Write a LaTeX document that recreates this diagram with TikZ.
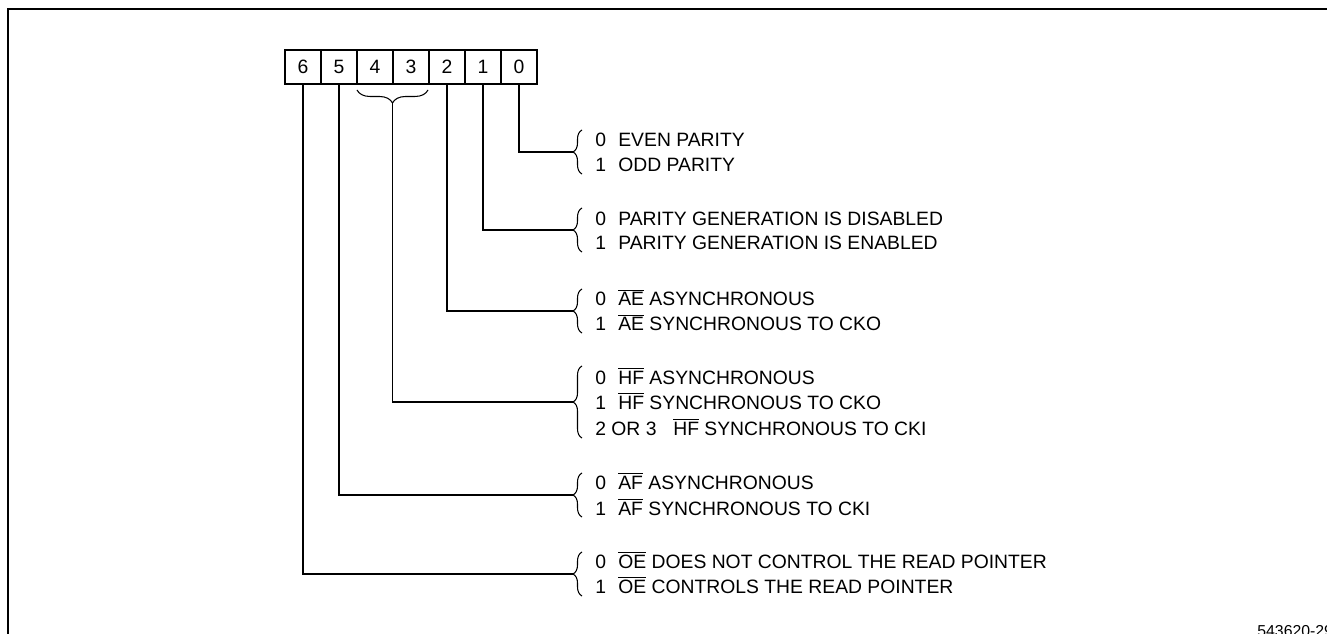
\documentclass[tikz,border=0pt]{standalone}
\usepackage{fontspec}
\setmainfont{Liberation Sans}
\usetikzlibrary{calc}
\usetikzlibrary{decorations.pathreplacing}

\newcommand{\ovl}[1]{$\overline{\mbox{#1}}$}

\tikzset{
  cell/.style={draw, line width=0.6pt, minimum width=0.72cm, minimum height=0.68cm, inner sep=0pt, font=\fontsize{11}{13}\selectfont},
  desc/.style={anchor=base west, inner sep=0pt, font=\fontsize{11}{13}\selectfont},
  brc/.style={decorate, decoration={brace, amplitude=0.18cm}, line width=0.6pt},
  wire/.style={line width=0.6pt},
}

\begin{document}
\begin{tikzpicture}[x=0.02cm, y=-0.02cm]
    \useasboundingbox (0,0) rectangle (1327,634);
    % bingkai
    \draw[line width=1pt] (8,634) |- (1327,9);

    % bit-bit register
    \node[cell] (b6) at (303,67) {6};
    \node[cell] (b5) at (339,67) {5};
    \node[cell] (b4) at (375,67) {4};
    \node[cell] (b3) at (411,67) {3};
    \node[cell] (b2) at (447,67) {2};
    \node[cell] (b1) at (483,67) {1};
    \node[cell] (b0) at (519,67) {0};
    \draw[line width=1.1pt] (b6.north west) rectangle (b0.south east);

    % kurung bit 4 dan 3
    \draw[decorate, decoration={brace, amplitude=0.26cm}, line width=0.6pt] (428,90) -- (357,90);
    \coordinate (k43) at (392.5,103);

    % ujung-ujung kurung keterangan
    \coordinate (t0) at (573,152);
    \coordinate (t1) at (573,230);
    \coordinate (t2) at (573,311);
    \coordinate (t4) at (573,402);
    \coordinate (t5) at (573,495);
    \coordinate (t6) at (573,574);

    % bit 0
    \node[desc] (e0a) at (595,147) {\makebox[0.46cm][l]{0}EVEN PARITY};
    \node[desc] (e0b) at (595,172) {\makebox[0.46cm][l]{1}ODD PARITY};
    \draw[brc] ($(t0)+(9,22)$) -- ($(t0)+(9,-22)$);
    \draw[wire] (b0.south) |- (t0);

    % bit 1
    \node[desc] (e1a) at (595,226) {\makebox[0.46cm][l]{0}PARITY GENERATION IS DISABLED};
    \node[desc] (e1b) at (595,250) {\makebox[0.46cm][l]{1}PARITY GENERATION IS ENABLED};
    \draw[brc] ($(t1)+(9,22)$) -- ($(t1)+(9,-22)$);
    \draw[wire] (b1.south) |- (t1);

    % bit 2
    \node[desc] (e2a) at (595,306) {\makebox[0.46cm][l]{0}\ovl{AE} ASYNCHRONOUS};
    \node[desc] (e2b) at (595,331) {\makebox[0.46cm][l]{1}\ovl{AE} SYNCHRONOUS TO CKO};
    \draw[brc] ($(t2)+(9,22)$) -- ($(t2)+(9,-22)$);
    \draw[wire] (b2.south) |- (t2);

    % bit 4 dan 3
    \node[desc] (e4a) at (595,384) {\makebox[0.46cm][l]{0}\ovl{HF} ASYNCHRONOUS};
    \node[desc] (e4b) at (595,409) {\makebox[0.46cm][l]{1}\ovl{HF} SYNCHRONOUS TO CKO};
    \node[desc] (e4c) at (595,435) {\makebox[1.56cm][l]{2 OR 3}\ovl{HF} SYNCHRONOUS TO CKI};
    \draw[brc] ($(t4)+(9,36)$) -- ($(t4)+(9,-36)$);
    \draw[wire] (k43) |- (t4);

    % bit 5
    \node[desc] (e5a) at (595,489) {\makebox[0.46cm][l]{0}\ovl{AF} ASYNCHRONOUS};
    \node[desc] (e5b) at (595,515) {\makebox[0.46cm][l]{1}\ovl{AF} SYNCHRONOUS TO CKI};
    \draw[brc] ($(t5)+(9,22)$) -- ($(t5)+(9,-22)$);
    \draw[wire] (b5.south) |- (t5);

    % bit 6
    \node[desc] (e6a) at (595,568) {\makebox[0.46cm][l]{0}\ovl{OE} DOES NOT CONTROL THE READ POINTER};
    \node[desc] (e6b) at (595,593) {\makebox[0.46cm][l]{1}\ovl{OE} CONTROLS THE READ POINTER};
    \draw[brc] ($(t6)+(9,22)$) -- ($(t6)+(9,-22)$);
    \draw[wire] (b6.south) |- (t6);

    % nomor gambar
    \node[anchor=base west, inner sep=0pt, font=\fontsize{9}{11}\selectfont] (fig) at (1257,636) {543620-29};
\end{tikzpicture}
\end{document}
